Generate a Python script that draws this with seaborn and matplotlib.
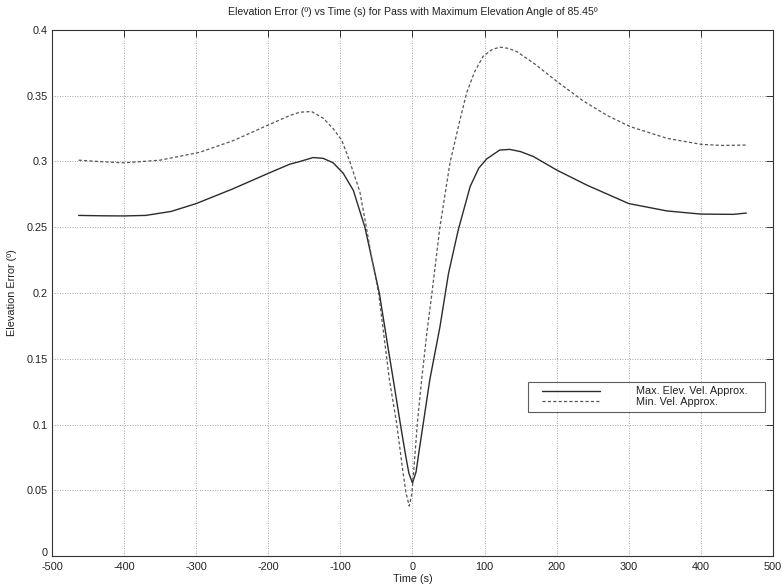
import matplotlib
matplotlib.use("Agg")
import matplotlib.pyplot as plt
import matplotlib.ticker as mticker
import matplotlib.transforms as mtransforms
from matplotlib.lines import Line2D
from matplotlib.legend_handler import HandlerLine2D
import numpy as np
import pandas as pd
import seaborn as sns

# Elevation error of the two approximations over a pass (time in s, error in degrees)
t_max_elev = [-463, -430, -400, -370, -335, -300, -250, -200, -170, -156, -138, -124,
              -110, -96, -82, -66, -56, -46, -33.5, -26.6, -17, -10, -5, 0, 5, 10,
              15, 24, 38, 50, 63.5, 80, 92, 103, 121, 135, 150, 168, 200, 242, 300,
              353, 400, 445, 463]
err_max_elev = [0.259, 0.2587, 0.2586, 0.259, 0.262, 0.268, 0.279, 0.291, 0.298, 0.300,
                0.303, 0.3024, 0.299, 0.291, 0.278, 0.250, 0.225, 0.200, 0.157, 0.134,
                0.101, 0.078, 0.063, 0.0555, 0.064, 0.083, 0.101, 0.134, 0.174, 0.215,
                0.248, 0.281, 0.295, 0.302, 0.3087, 0.3092, 0.3075, 0.3037, 0.2935,
                0.282, 0.268, 0.2624, 0.260, 0.2598, 0.2608]

t_min_vel = [-463, -430, -400, -350, -295, -248, -199, -170, -156, -140, -124, -110,
             -98, -87, -73, -64, -56, -47, -32, -22, -13, -9, -4.5, -1, 1.5, 6.7,
             12.7, 20, 27, 38, 52, 66, 75, 86, 98, 110, 121, 133, 145, 170, 200, 237,
             270, 302, 353, 401, 430, 463]
err_min_vel = [0.301, 0.2998, 0.299, 0.301, 0.307, 0.316, 0.328, 0.335, 0.3375, 0.338,
               0.333, 0.325, 0.316, 0.300, 0.277, 0.250, 0.225, 0.200, 0.134, 0.101,
               0.063, 0.048, 0.038, 0.047, 0.063, 0.101, 0.134, 0.170, 0.200, 0.250,
               0.299, 0.332, 0.352, 0.368, 0.380, 0.385, 0.387, 0.386, 0.3835, 0.374,
               0.361, 0.346, 0.335, 0.3265, 0.3176, 0.313, 0.3122, 0.3125]

series_labels = ["Max. Elev. Vel. Approx.", "Min. Vel. Approx."]
x_ticks = [-500, -400, -300, -200, -100, 0, 100, 200, 300, 400, 500]
y_ticks = [0, 0.05, 0.1, 0.15, 0.2, 0.25, 0.3, 0.35, 0.4]

title = "Elevation Error (º) vs Time (s) for Pass with Maximum Elevation Angle of 85.45º"

sns.set_style("white")
plt.rcParams["font.family"] = ["Liberation Sans", "DejaVu Sans"]
plt.rcParams["axes.unicode_minus"] = False

TXT = "#222222"
FS = 7.8

fig = plt.figure(figsize=(7.83, 5.88), dpi=100)
ax = fig.add_axes([0.0664, 0.0544, 0.9208, 0.8946])

df_a = pd.DataFrame({"t": t_max_elev, "err": err_max_elev})
df_b = pd.DataFrame({"t": t_min_vel, "err": err_min_vel})

sns.lineplot(data=df_a, x="t", y="err", ax=ax, color="#2b2b2b", linewidth=1.0,
             sort=False, estimator=None, label=series_labels[0])
sns.lineplot(data=df_b, x="t", y="err", ax=ax, color="#555555", linewidth=0.9,
             linestyle=(0, (2.5, 1.8)), sort=False, estimator=None,
             label=series_labels[1])

ax.set_xlim(-500, 500)
ax.set_ylim(0, 0.4)
ax.set_xticks(x_ticks)
ax.set_yticks(y_ticks)
ax.yaxis.set_major_formatter(mticker.FormatStrFormatter("%g"))

ax.grid(True, color="#8a8a8a", linestyle=(0, (1, 2)), linewidth=0.6)
for side in ax.spines.values():
    side.set_color("#333333")
    side.set_linewidth(0.8)
ax.tick_params(direction="in", top=True, right=True, length=5, width=0.7,
               labelsize=FS, colors="#333333")
ax.tick_params(axis="x", pad=4)
ax.tick_params(axis="y", pad=3)
for lbl in ax.get_xticklabels() + ax.get_yticklabels():
    lbl.set_color(TXT)

# lift the "0" on the y axis a little so it clears the "-500" below it
zero_lbl = ax.get_yticklabels()[0]
zero_lbl.set_transform(zero_lbl.get_transform() +
                       mtransforms.ScaledTranslation(0, 3 / 72, fig.dpi_scale_trans))

ax.set_xlabel("Time (s)", fontsize=FS, color=TXT, labelpad=2)
ax.set_ylabel("Elevation Error (º)", fontsize=FS, color=TXT, labelpad=7)
ax.set_title(title, fontsize=7.6, color=TXT, pad=11)

leg = ax.legend(loc="lower left", bbox_to_anchor=(0.660, 0.274, 0.329, 0.059),
                mode="expand", fontsize=FS, frameon=True, fancybox=False,
                numpoints=2, handler_map={Line2D: HandlerLine2D(marker_pad=0.885)},
                handlelength=7.13, handletextpad=2.44, labelspacing=0.05,
                borderpad=0.45, borderaxespad=0)
leg.get_frame().set_edgecolor("#333333")
leg.get_frame().set_linewidth(0.8)
for txt in leg.get_texts():
    txt.set_color(TXT)

fig.savefig("out.png", dpi=100, facecolor="white")
